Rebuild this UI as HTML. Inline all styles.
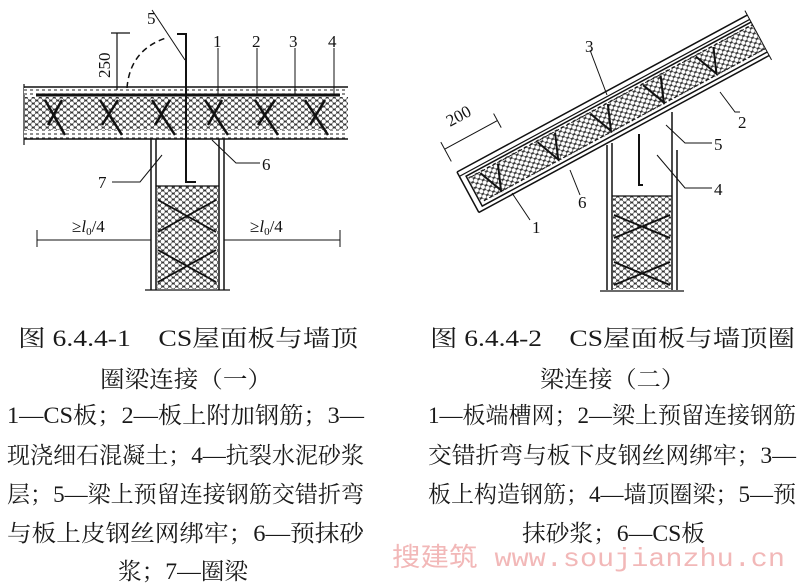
<!DOCTYPE html>
<html><head><meta charset="utf-8"><style>
html,body{margin:0;padding:0;background:#fff;}
svg{display:block;}
.t{font-family:"Liberation Serif","Noto Serif CJK SC","Noto Sans CJK SC",serif;fill:#1a1a1a;}
.n{font-family:"Liberation Serif",serif;font-size:17px;fill:#111;}
</style></head><body>
<svg width="800" height="583" viewBox="0 0 800 583" xmlns="http://www.w3.org/2000/svg">
<defs>
<pattern id="hx" width="7" height="6" patternUnits="userSpaceOnUse">
<rect width="7" height="6" fill="#333"/>
<circle cx="1.75" cy="1.5" r="2.1" fill="#fff"/>
<circle cx="5.25" cy="4.5" r="2.1" fill="#fff"/>
<circle cx="8.75" cy="1.5" r="2.1" fill="#fff"/>
<circle cx="-1.75" cy="4.5" r="2.1" fill="#fff"/>
<circle cx="1.75" cy="7.5" r="2.1" fill="#fff"/>
<circle cx="5.25" cy="-1.5" r="2.1" fill="#fff"/>
</pattern>
<pattern id="ly" width="6" height="4" patternUnits="userSpaceOnUse">
<rect width="6" height="4" fill="#fff"/>
<path d="M0 2 h3" stroke="#444" stroke-width="1.2"/>
</pattern>
</defs>

<!-- LEFT FIGURE -->
<g stroke="#111" fill="none">
<line x1="24" y1="87" x2="348" y2="87" stroke-width="1.5"/>
<line x1="24" y1="84" x2="24" y2="145" stroke-width="1.2"/>
<rect x="24" y="88" width="324" height="7" fill="url(#ly)" stroke="none"/>
<line x1="36" y1="95" x2="340" y2="95" stroke-width="3"/>
<rect x="25" y="97" width="323" height="33" fill="url(#hx)" stroke="none"/>
<rect x="24" y="130" width="324" height="9" fill="url(#ly)" stroke="none"/>
<line x1="24" y1="139" x2="348" y2="139" stroke-width="1.5"/>
<g stroke-width="2.5">
<line x1="45" y1="100" x2="65" y2="135"/><line x1="100" y1="100" x2="122" y2="135"/>
<line x1="152" y1="100" x2="175" y2="135"/><line x1="205" y1="100" x2="228" y2="135"/>
<line x1="255" y1="100" x2="278" y2="135"/><line x1="305" y1="100" x2="328" y2="135"/>
<line x1="62" y1="100" x2="48" y2="125"/><line x1="118" y1="100" x2="102" y2="125"/>
<line x1="170" y1="100" x2="155" y2="125"/><line x1="222" y1="100" x2="208" y2="125"/>
<line x1="275" y1="100" x2="258" y2="125"/><line x1="325" y1="100" x2="310" y2="125"/>
</g>
<!-- column -->
<line x1="151" y1="139" x2="151" y2="290" stroke-width="1.5"/>
<line x1="156" y1="139" x2="156" y2="290" stroke-width="1.5"/>
<line x1="219" y1="139" x2="219" y2="290" stroke-width="1.5"/>
<line x1="224" y1="139" x2="224" y2="290" stroke-width="1.5"/>
<rect x="157" y="186" width="61" height="103" fill="url(#hx)" stroke="none"/>
<line x1="156" y1="186" x2="219" y2="186" stroke-width="1.2"/>
<line x1="145" y1="290" x2="230" y2="290" stroke-width="1.2"/>
<g stroke-width="1.8">
<line x1="158" y1="200" x2="216" y2="232"/><line x1="158" y1="232" x2="216" y2="200"/>
<line x1="158" y1="250" x2="216" y2="282"/><line x1="158" y1="282" x2="216" y2="250"/>
</g>
<!-- bar 5 -->
<polyline points="177,34 186,34 186,182 196,182" stroke-width="2"/>
<line x1="152" y1="10" x2="185" y2="60" stroke-width="1"/>
<path d="M127 88 Q130 50 166 38" stroke-dasharray="6,4" stroke-width="1.5"/>
<line x1="117" y1="33" x2="117" y2="90" stroke-width="1.2"/>
<line x1="111" y1="33" x2="130" y2="33" stroke-width="1.2"/>
<!-- leaders -->
<line x1="218" y1="48" x2="218" y2="95" stroke-width="1"/>
<line x1="257" y1="48" x2="257" y2="95" stroke-width="1"/>
<line x1="295" y1="48" x2="295" y2="95" stroke-width="1"/>
<line x1="334" y1="48" x2="334" y2="95" stroke-width="1"/>
<polyline points="212,140 236,163 260,163" stroke-width="1"/>
<polyline points="112,182 140,182 162,155" stroke-width="1"/>
<!-- dims -->
<line x1="37" y1="240" x2="151" y2="240" stroke-width="1"/>
<line x1="37" y1="230" x2="37" y2="247" stroke-width="1"/>
<line x1="224" y1="240" x2="340" y2="240" stroke-width="1"/>
<line x1="340" y1="230" x2="340" y2="247" stroke-width="1"/>
</g>
<text class="n" x="147" y="24" font-size="18">5</text>
<text class="n" x="213" y="47">1</text>
<text class="n" x="252" y="47">2</text>
<text class="n" x="289" y="47">3</text>
<text class="n" x="328" y="47">4</text>
<text class="n" x="262" y="170">6</text>
<text class="n" x="98" y="188">7</text>
<text class="n" transform="translate(110,78) rotate(-90)" font-size="15">250</text>
<text class="n" x="72" y="232" font-size="18">≥<tspan font-style="italic">l</tspan><tspan font-size="11" dy="3">0</tspan><tspan dy="-3">/4</tspan></text>
<text class="n" x="250" y="232" font-size="18">≥<tspan font-style="italic">l</tspan><tspan font-size="11" dy="3">0</tspan><tspan dy="-3">/4</tspan></text>

<!-- RIGHT FIGURE -->
<g stroke="#111" fill="none">
<line x1="607" y1="145" x2="607" y2="290" stroke-width="1.5"/>
<line x1="612" y1="143" x2="612" y2="290" stroke-width="1.5"/>
<line x1="672" y1="112" x2="672" y2="290" stroke-width="1.5"/>
<line x1="677" y1="150" x2="677" y2="290" stroke-width="1.5"/>
<rect x="613" y="196" width="58" height="93" fill="url(#hx)" stroke="none"/>
<line x1="612" y1="196" x2="672" y2="196" stroke-width="1.2"/>
<line x1="600" y1="291" x2="684" y2="291" stroke-width="1.2"/>
<g stroke-width="1.8">
<line x1="614" y1="215" x2="670" y2="238"/><line x1="614" y1="238" x2="670" y2="215"/>
<line x1="614" y1="262" x2="670" y2="285"/><line x1="614" y1="285" x2="670" y2="262"/>
</g>
<polyline points="639,134 639,185 643,185" stroke-width="2"/>
<g transform="translate(457,172) rotate(-28.4)">
<rect x="0" y="0" width="330" height="46" fill="#fff" stroke="none"/>
<line x1="0" y1="0" x2="330" y2="0" stroke-width="1.5"/>
<line x1="0" y1="5" x2="330" y2="5" stroke-width="1.2"/>
<line x1="0" y1="0" x2="0" y2="46" stroke-width="1.5"/>
<line x1="0" y1="46" x2="330" y2="46" stroke-width="1.5"/>
<rect x="7" y="10" width="323" height="29" fill="url(#hx)" stroke="none"/>
<polyline points="330,8 6,8 6,42 330,42" stroke-width="1.5"/>
<line x1="10" y1="11" x2="330" y2="11" stroke-width="1" stroke-dasharray="4,2"/>
<line x1="10" y1="38" x2="330" y2="38" stroke-width="1" stroke-dasharray="4,2"/>
<g stroke-width="2">
<polyline points="20,12 30,37 40,12"/><polyline points="85,12 95,37 105,12"/>
<polyline points="145,12 155,37 165,12"/><polyline points="205,12 215,37 225,12"/>
<polyline points="265,12 275,37 285,12"/>
</g>
<line x1="330" y1="-5" x2="330" y2="51" stroke-width="1"/>
<line x1="0" y1="-26" x2="60" y2="-26" stroke-width="1"/>
<line x1="0" y1="-34" x2="0" y2="-12" stroke-width="1"/>
<line x1="60" y1="-34" x2="60" y2="-18" stroke-width="1"/>
</g>
<line x1="590" y1="50" x2="607" y2="95" stroke-width="1"/>
<polyline points="720,92 735,112 740,112" stroke-width="1"/>
<polyline points="666,125 685,143 712,143" stroke-width="1"/>
<polyline points="657,155 685,188 712,188" stroke-width="1"/>
<line x1="570" y1="170" x2="580" y2="195" stroke-width="1"/>
<line x1="512" y1="193" x2="530" y2="220" stroke-width="1"/>
</g>
<text class="n" x="585" y="52">3</text>
<text class="n" x="738" y="128">2</text>
<text class="n" x="714" y="150">5</text>
<text class="n" x="714" y="195">4</text>
<text class="n" x="578" y="208">6</text>
<text class="n" x="532" y="233">1</text>
<text class="n" transform="translate(450,127) rotate(-28.4)" font-size="15">200</text>

<!-- CAPTIONS -->
<g class="t" font-size="23">
<text x="18" y="346" textLength="340" lengthAdjust="spacingAndGlyphs">图 6.4.4-1　CS屋面板与墙顶</text>
<text x="100" y="387" textLength="172" lengthAdjust="spacingAndGlyphs">圈梁连接（一）</text>
<text x="7" y="423" textLength="357" lengthAdjust="spacingAndGlyphs">1—CS板；2—板上附加钢筋；3—</text>
<text x="7" y="463" textLength="357" lengthAdjust="spacingAndGlyphs">现浇细石混凝土；4—抗裂水泥砂浆</text>
<text x="7" y="502" textLength="357" lengthAdjust="spacingAndGlyphs">层；5—梁上预留连接钢筋交错折弯</text>
<text x="7" y="541" textLength="357" lengthAdjust="spacingAndGlyphs">与板上皮钢丝网绑牢；6—预抹砂</text>
<text x="118" y="579" textLength="130" lengthAdjust="spacingAndGlyphs">浆；7—圈梁</text>

<text x="430" y="346" textLength="365" lengthAdjust="spacingAndGlyphs">图 6.4.4-2　CS屋面板与墙顶圈</text>
<text x="540" y="387" textLength="145" lengthAdjust="spacingAndGlyphs">梁连接（二）</text>
<text x="428" y="423" textLength="368" lengthAdjust="spacingAndGlyphs">1—板端槽网；2—梁上预留连接钢筋</text>
<text x="428" y="463" textLength="368" lengthAdjust="spacingAndGlyphs">交错折弯与板下皮钢丝网绑牢；3—</text>
<text x="428" y="502" textLength="368" lengthAdjust="spacingAndGlyphs">板上构造钢筋；4—墙顶圈梁；5—预</text>
<text x="522" y="541" textLength="183" lengthAdjust="spacingAndGlyphs">抹砂浆；6—CS板</text>
</g>
<text x="392" y="566" font-size="26" fill="#f2b8b8" textLength="393" lengthAdjust="spacingAndGlyphs" font-family="'Liberation Mono','Noto Sans CJK SC',monospace">搜建筑 www.soujianzhu.cn</text>
</svg>
</body></html>
